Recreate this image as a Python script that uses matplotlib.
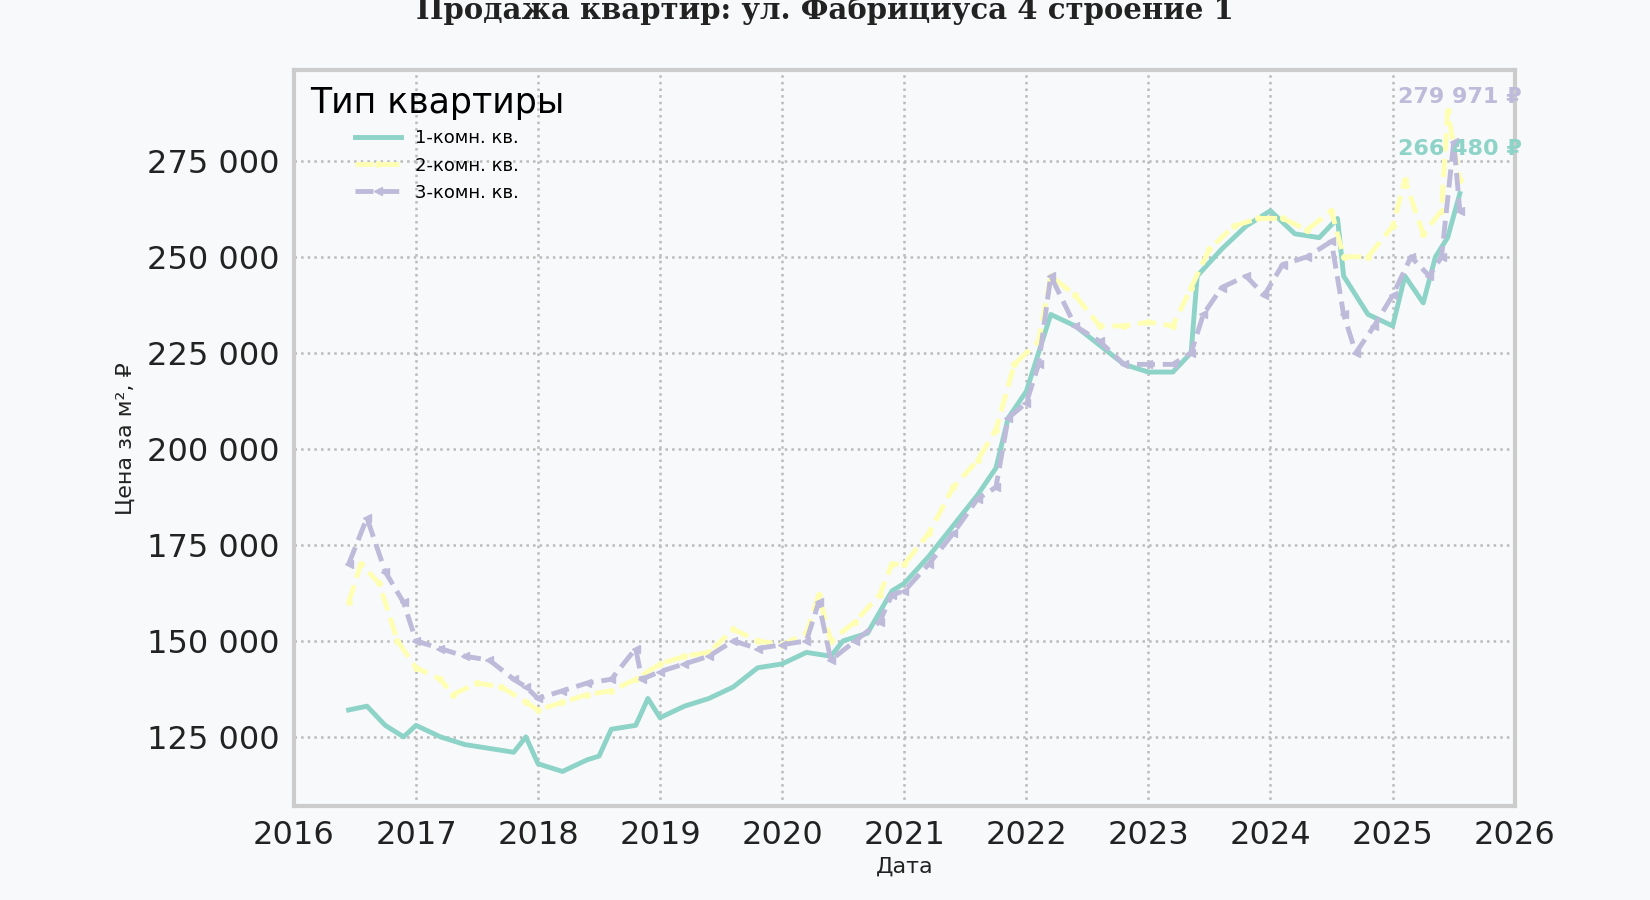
import matplotlib
matplotlib.use("Agg")
import matplotlib.pyplot as plt
import matplotlib.dates as mdates
import numpy as np
from datetime import datetime, timedelta

def todates(ys):
    out = []
    for y in ys:
        yr = int(y); frac = y - yr
        out.append(datetime(yr, 1, 1) + timedelta(days=frac * 365.25))
    return out

t1 = [2016.45,2016.6,2016.75,2016.9,2017.0,2017.2,2017.4,2017.6,2017.8,2017.9,2018.0,2018.2,2018.4,2018.5,2018.6,2018.8,2018.9,2019.0,2019.2,2019.4,2019.6,2019.8,2020.0,2020.2,2020.4,2020.5,2020.7,2020.9,2021.0,2021.2,2021.4,2021.6,2021.75,2021.85,2022.0,2022.1,2022.2,2022.4,2022.6,2022.8,2023.0,2023.2,2023.35,2023.4,2023.6,2023.8,2024.0,2024.2,2024.4,2024.55,2024.6,2024.8,2025.0,2025.1,2025.25,2025.35,2025.45,2025.55]
v1 = [132,133,128,125,128,125,123,122,121,125,118,116,119,120,127,128,135,130,133,135,138,143,144,147,146,150,152,163,165,172,180,188,195,208,215,225,235,232,227,222,220,220,225,245,252,258,262,256,255,260,245,235,232,245,238,250,255,266.48]

t2 = [2016.45,2016.55,2016.7,2016.85,2017.0,2017.2,2017.3,2017.5,2017.7,2017.9,2018.0,2018.2,2018.4,2018.6,2018.8,2019.0,2019.2,2019.4,2019.6,2019.8,2020.0,2020.2,2020.3,2020.4,2020.6,2020.8,2020.9,2021.0,2021.2,2021.4,2021.6,2021.75,2021.9,2022.1,2022.2,2022.4,2022.6,2022.8,2023.0,2023.2,2023.35,2023.5,2023.7,2023.9,2024.1,2024.3,2024.5,2024.6,2024.8,2025.0,2025.1,2025.25,2025.4,2025.45,2025.55]
v2 = [160,170,165,150,143,140,136,139,138,134,132,134,136,137,140,144,146,147,153,150,149,152,162,150,155,162,170,170,178,190,197,205,222,228,245,240,232,232,233,232,242,252,258,260,260,257,262,250,250,258,270,256,262,288,270]

t3 = [2016.45,2016.6,2016.75,2016.9,2017.0,2017.2,2017.4,2017.6,2017.8,2017.9,2018.0,2018.2,2018.4,2018.6,2018.8,2018.85,2019.0,2019.2,2019.4,2019.6,2019.8,2020.0,2020.2,2020.3,2020.4,2020.6,2020.8,2020.9,2021.0,2021.2,2021.4,2021.6,2021.75,2021.85,2022.0,2022.1,2022.2,2022.4,2022.6,2022.8,2023.0,2023.2,2023.35,2023.45,2023.6,2023.8,2023.95,2024.1,2024.3,2024.5,2024.6,2024.7,2024.85,2025.0,2025.15,2025.3,2025.4,2025.5,2025.55]
v3 = [170,182,168,160,150,148,146,145,140,138,135,137,139,140,148,140,142,144,146,150,148,149,150,160,145,150,155,162,163,170,178,187,190,208,212,222,245,232,228,222,222,222,225,235,242,245,240,248,250,254,235,225,232,240,250,245,250,279.971,262]

labels = ["1-комн. кв.", "2-комн. кв.", "3-комн. кв."]
colors = ["#8dd3c7", "#ffffb3", "#bebada"]

bg = "#f8f9fa"
fig = plt.figure(figsize=(16.5, 9), dpi=100, facecolor=bg)
ax = fig.add_axes([0.178, 0.104, 0.740, 0.818])
ax.set_facecolor(bg)

ax.plot(todates(t1), np.array(v1)*1000, color=colors[0], lw=3.5, ls="-", label=labels[0])
ax.plot(todates(t2), np.array(v2)*1000, color=colors[1], lw=3.5, ls="--", marker=".", ms=8, label=labels[1])
ax.plot(todates(t3), np.array(v3)*1000, color=colors[2], lw=3.5, ls="--", marker="<", ms=6, label=labels[2])

ax.set_xlim(datetime(2016,1,1), datetime(2026,1,1))
ax.set_ylim(106900, 298600)
ax.xaxis.set_major_locator(mdates.YearLocator())
ax.xaxis.set_major_formatter(mdates.DateFormatter("%Y"))
ax.yaxis.set_major_locator(matplotlib.ticker.MultipleLocator(25000))
ax.yaxis.set_major_formatter(matplotlib.ticker.FuncFormatter(lambda v, p: f"{int(v):,}".replace(",", " ")))
ax.tick_params(labelsize=23, colors="#222222", length=0, pad=10)
ax.grid(True, ls=":", color="#bbbbbb", lw=1.8)
for s in ax.spines.values():
    s.set_color("#cccccc"); s.set_linewidth(3)

ax.set_xlabel("Дата", fontsize=16, color="#222222", labelpad=4)
ax.set_ylabel("Цена за м², ₽", fontsize=16, color="#222222", labelpad=8)
fig.suptitle("Продажа квартир: ул. Фабрициуса 4 строение 1", fontsize=21, fontweight="bold",
             family="DejaVu Serif", color="#222222", y=1.005)

leg = ax.legend(title="Тип квартиры", loc="upper left", frameon=False, fontsize=13,
                title_fontsize=25, handlelength=2.5, labelspacing=0.5)
leg._legend_box.align = "center"

ax.text(datetime(2025,7,20), 291500, "279 971 ₽", color=colors[2], fontsize=16, fontweight="bold",
        ha="center", va="center")
ax.text(datetime(2025,7,20), 278000, "266 480 ₽", color=colors[0], fontsize=16, fontweight="bold",
        ha="center", va="center")

fig.savefig("out.png", dpi=100, facecolor=bg)
